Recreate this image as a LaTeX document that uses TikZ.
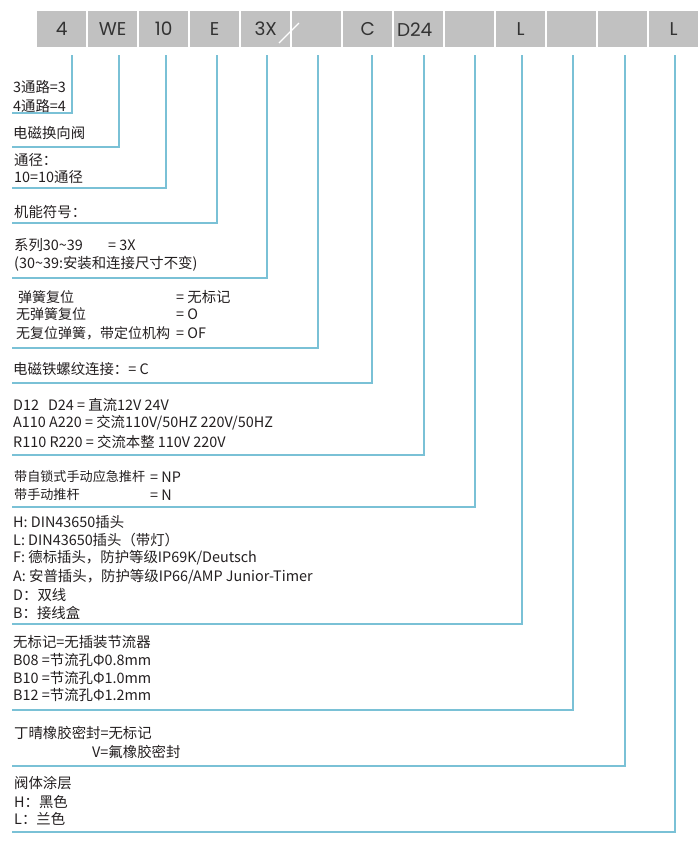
\documentclass[tikz,border=0pt]{standalone}
\usepackage{fontspec}
\setmainfont{Noto Sans CJK SC}
\newfontfamily\boxfont{Poppins}
\definecolor{linec}{RGB}{122,193,214}
\definecolor{boxc}{RGB}{193,193,193}
\definecolor{txt}{RGB}{35,31,32}
\begin{document}
\begin{tikzpicture}[x=1pt,y=-1pt,
 cell/.style={fill=boxc, minimum width=49pt, minimum height=36pt, inner sep=0, anchor=north west,
   font=\boxfont\fontsize{18.5}{18.5}\selectfont, text=black!80},
 desc/.style={anchor=west, inner sep=0, font=\fontsize{14.4}{14.4}\selectfont, text=txt},
 narrow/.style={desc, font=\fontsize{13.1}{13.1}\selectfont},
 midw/.style={desc, font=\fontsize{14}{14}\selectfont},
 conn/.style={draw=linec, line width=1.3pt}]
\useasboundingbox (0,0) rectangle (700,852);
% code boxes
\node[cell] (b1) at (37,11) {4};
\node[cell] (b2) at (88,11) {WE};
\node[cell] (b3) at (139,11) {10};
\node[cell] (b4) at (190,11) {E};
\node[cell] (b5) at (241,11) {3X};
\node[cell] (b6) at (292,11) {};
\node[cell] (b7) at (343,11) {C};
\node[cell] (b8) at (394,11) {\hspace{-8pt}D24};
\node[cell] (b9) at (445,11) {};
\node[cell] (b10) at (496,11) {L};
\node[cell] (b11) at (547,11) {};
\node[cell] (b12) at (598,11) {};
\node[cell] (b13) at (649,11) {L};
\draw[white, line width=1.4pt] (279,43) -- (299,23);
% connector ends
\foreach \i/\x/\y in {1/72/113, 2/119/147, 3/166/188, 4/217/223, 5/267/278, 6/318/348, 7/372/383,
  8/424/455, 9/475/507, 10/522/624, 11/573/710, 12/625/766, 13/675/832} {
  \coordinate (t\i) at (\x,55);
  \coordinate (e\i) at (12,\y);
  \draw[conn] (t\i) |- (e\i);
}
% descriptions
\node[desc] (d1a) at (13,87) {3通路=3};
\node[desc] (d1b) at (13,106) {4通路=4};
\node[desc] (d2a) at (13,133) {电磁换向阀};
\node[desc] (d3a) at (14,160) {通径：};
\node[desc] (d3b) at (14,177) {10=10通径};
\node[desc] (d4a) at (14,212) {机能符号：};
\node[desc] (d5a) at (14,245) {系列30\textasciitilde 39};
\node[desc] (d5b) at (108,245) {= 3X};
\node[desc] (d5c) at (14,264) {(30\textasciitilde 39:安装和连接尺寸不变)};
\node[midw] (d6a) at (18,297) {弹簧复位};
\node[desc] (d6b) at (176,297) {= 无标记};
\node[midw] (d6c) at (16,314) {无弹簧复位};
\node[desc] (d6d) at (176,314) {= O};
\node[midw] (d6e) at (16,333) {无复位弹簧，带定位机构};
\node[desc] (d6f) at (176,333) {= OF};
\node[desc] (d7a) at (13,369) {电磁铁螺纹连接：= C};
\node[desc] (d8a) at (13,405) {D12\hspace{9pt}D24 = 直流12V 24V};
\node[desc] (d8b) at (13,423) {A110 A220 = 交流110V/50HZ 220V/50HZ};
\node[desc] (d8c) at (13,442) {R110 R220 = 交流本整 110V 220V};
\node[narrow] (d9a) at (14,477) {带自锁式手动应急推杆};
\node[desc] (d9b) at (150,477) {= NP};
\node[narrow] (d9c) at (14,495) {带手动推杆};
\node[desc] (d9d) at (150,495) {= N};
\node[desc] (d10a) at (13,522) {H: DIN43650插头};
\node[desc] (d10b) at (13,540) {L: DIN43650插头（带灯）};
\node[desc] (d10c) at (13,558) {F: 德标插头，防护等级IP69K/Deutsch};
\node[desc] (d10d) at (13,577) {A: 安普插头，防护等级IP66/AMP Junior-Timer};
\node[desc] (d10e) at (13,595) {D：双线};
\node[desc] (d10f) at (13,613) {B：接线盒};
\node[desc] (d11a) at (13,642) {无标记=无插装节流器};
\node[desc] (d11b) at (13,660) {B08 =节流孔Φ0.8mm};
\node[desc] (d11c) at (13,678) {B10 =节流孔Φ1.0mm};
\node[desc] (d11d) at (13,695) {B12 =节流孔Φ1.2mm};
\node[desc] (d12a) at (14,733) {丁晴橡胶密封=无标记};
\node[desc] (d12b) at (92,752) {V=氟橡胶密封};
\node[desc] (d13a) at (14,783) {阀体涂层};
\node[desc] (d13b) at (14,802) {H：黑色};
\node[desc] (d13c) at (14,819) {L：兰色};
\end{tikzpicture}
\end{document}
